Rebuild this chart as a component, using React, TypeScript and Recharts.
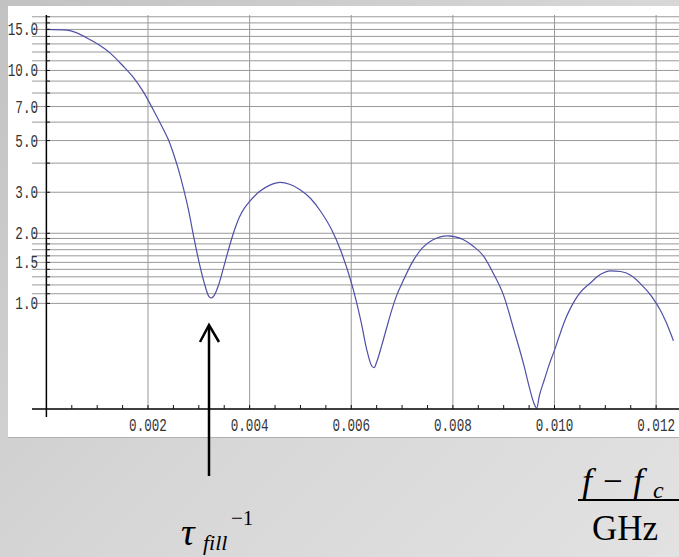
import { LineChart, Line, XAxis, YAxis, CartesianGrid, ReferenceLine } from "recharts";

// frequency offset (GHz) and response
const freq = [
  0, 0.0004, 0.0009, 0.00125, 0.0015, 0.0017, 0.0019, 0.0021, 0.0023, 0.0024,
  0.0025, 0.0026, 0.0027, 0.0028, 0.0029, 0.003, 0.0031, 0.0032, 0.00325, 0.0033,
  0.0034, 0.0035, 0.0036, 0.0037, 0.0038, 0.0039, 0.004, 0.0042, 0.0044, 0.0046,
  0.0048, 0.005, 0.0052, 0.0054, 0.0056, 0.0058, 0.006, 0.0061, 0.0062, 0.0063,
  0.0064, 0.00645, 0.0065, 0.0066, 0.0067, 0.0068, 0.0069, 0.007, 0.0072, 0.0074,
  0.0076, 0.0079, 0.0082, 0.0084, 0.0086, 0.0088, 0.009, 0.0092, 0.0094, 0.0095,
  0.0096, 0.00965, 0.0097, 0.0098, 0.0099, 0.01, 0.0101, 0.0102, 0.0103, 0.0104,
  0.0105, 0.0107, 0.0109, 0.0111, 0.0113, 0.0115, 0.0117, 0.0119, 0.0121, 0.0123,
  0.01234,
];
const response = [
  15.0, 14.9, 13.4, 11.9, 10.5, 9.4, 8.15, 6.8, 5.6, 5.05,
  4.4, 3.75, 3.1, 2.5, 1.93, 1.52, 1.24, 1.07, 1.055, 1.08,
  1.22, 1.46, 1.75, 2.06, 2.35, 2.57, 2.74, 3.03, 3.22, 3.31,
  3.24, 3.07, 2.82, 2.48, 2.1, 1.67, 1.23, 1.02, 0.82, 0.64,
  0.54, 0.53, 0.56, 0.66, 0.79, 0.94, 1.09, 1.22, 1.5, 1.73,
  1.87, 1.95, 1.88, 1.76, 1.6, 1.34, 1.08, 0.77, 0.54, 0.44,
  0.37, 0.355, 0.4, 0.47, 0.55, 0.63, 0.73, 0.84, 0.94, 1.03,
  1.11, 1.22, 1.33, 1.38, 1.37, 1.32, 1.21, 1.08, 0.92, 0.73,
  0.69,
];

const yGrid = [1, 1.1, 1.2, 1.3, 1.4, 1.5, 1.6, 1.7, 1.8, 1.9, 2, 3, 4, 5, 6, 7, 8, 9, 10, 11, 12, 13, 14, 15, 16, 17];
const yLabeled = [1, 1.5, 2, 3, 5, 7, 10, 15];
const xMajor = [0.002, 0.004, 0.006, 0.008, 0.01, 0.012];
const xMinor = [
  0.0005, 0.001, 0.0015, 0.002, 0.0025, 0.003, 0.0035, 0.004, 0.0045, 0.005, 0.0055, 0.006,
  0.0065, 0.007, 0.0075, 0.008, 0.0085, 0.009, 0.0095, 0.01, 0.0105, 0.011, 0.0115, 0.012,
];

const data = freq.map((x, i) => ({ x, y: response[i] }));

const tickFont = { fontFamily: "Liberation Mono", fontSize: 18, fill: "#333" };

function YTick({ y, payload }: any) {
  const v = payload.value;
  const lab = yLabeled.includes(v);
  return (
    <g>
      <line x1={46} x2={50} y1={y} y2={y} stroke="#111" />
      {lab && (
        <text transform={`translate(38,${y + 6}) scale(0.7,1)`} textAnchor="end" {...tickFont}>
          {v.toFixed(1)}
        </text>
      )}
    </g>
  );
}

function XTick({ x, payload }: any) {
  const v = payload.value;
  const major = xMajor.some((m) => Math.abs(m - v) < 1e-9);
  return (
    <g>
      <line x1={x} x2={x} y1={409} y2={405} stroke="#111" />
      {major && (
        <text transform={`translate(${x},431) scale(0.7,1)`} textAnchor="middle" {...tickFont}>
          {v.toFixed(3)}
        </text>
      )}
    </g>
  );
}

export default function App() {
  return (
    <div
      style={{
        position: "absolute",
        left: 0,
        top: 0,
        width: 679,
        height: 557,
        overflow: "hidden",
        background: "linear-gradient(135deg, #c2c2c2 0%, #d6d6d6 50%, #e2e2e2 100%)",
      }}
    >
      <div
        style={{
          position: "absolute",
          left: 8,
          top: 6,
          width: 690,
          height: 431,
          background: "#fff",
          borderBottom: "1px solid #b0b0b0",
        }}
      />
      <div style={{ position: "absolute", left: 0, top: 0 }}>
        <LineChart width={679} height={557} data={data} margin={{ top: 15, right: 0, left: 0, bottom: 118 }}>
          <CartesianGrid stroke="#999" horizontalValues={yGrid} verticalValues={xMajor} />
          <ReferenceLine x={0} stroke="#000" strokeWidth={1.5} />
          <XAxis
            type="number"
            dataKey="x"
            domain={[-0.000283, 0.01245]}
            allowDataOverflow
            ticks={xMinor}
            interval={0}
            height={30}
            axisLine={{ stroke: "#000", strokeWidth: 1.5 }}
            tickLine={false}
            tick={<XTick />}
          />
          <YAxis
            type="number"
            scale="log"
            domain={[0.352, 17.3]}
            allowDataOverflow
            ticks={yGrid}
            interval={0}
            width={32}
            axisLine={false}
            tickLine={false}
            tick={<YTick />}
          />
          <Line
            type="monotone"
            dataKey="y"
            stroke="#4f4fa8"
            strokeWidth={1.2}
            dot={false}
            isAnimationActive={false}
          />
        </LineChart>
      </div>
      <svg width={679} height={557} style={{ position: "absolute", left: 0, top: 0 }}>
        <line x1={46.4} x2={46.4} y1={409} y2={417} stroke="#000" strokeWidth={1.5} />
        <line x1={209} x2={209} y1={326} y2={476} stroke="#000" strokeWidth={2.5} />
        <polyline points="200,342 209,325 219,342" fill="none" stroke="#000" strokeWidth={2.5} />
        <g fontFamily="Liberation Serif" fill="#000">
          <text x={181} y={545} fontSize={38} fontStyle="italic">τ</text>
          <text x={203} y={550} fontSize={22} fontStyle="italic">fill</text>
          <text x={231} y={525} fontSize={21}>−1</text>
          <text x={582} y={493} fontSize={36} fontStyle="italic">f</text>
          <text x={603} y={493} fontSize={35}>−</text>
          <text x={633} y={493} fontSize={36} fontStyle="italic">f</text>
          <text x={653} y={498} fontSize={24} fontStyle="italic">c</text>
          <line x1={578} x2={679} y1={500} y2={500} stroke="#000" strokeWidth={2} />
          <text x={592} y={540} fontSize={35}>GHz</text>
        </g>
      </svg>
    </div>
  );
}
